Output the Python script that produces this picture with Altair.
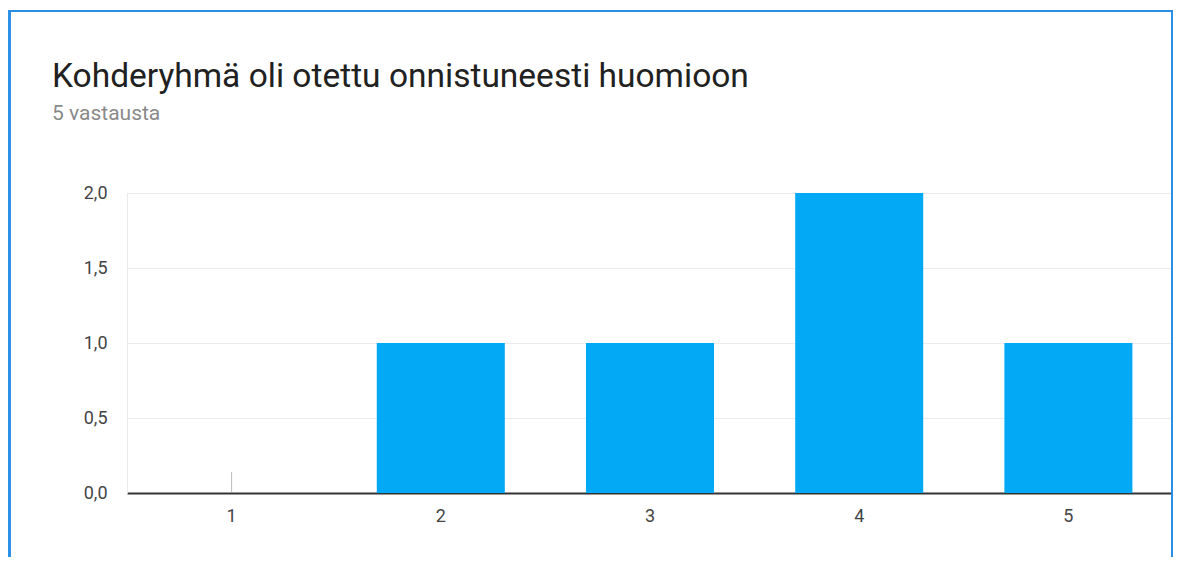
import altair as alt
import pandas as pd

categories = ["1", "2", "3", "4", "5"]
counts = [0, 1, 1, 2, 1]
title_text = "Kohderyhmä oli otettu onnistuneesti huomioon"
subtitle_text = "5 vastausta"

df = pd.DataFrame({"cat": categories, "n": counts})

FONT = "Roboto"

x_enc = alt.X(
    "cat:N",
    sort=categories,
    scale=alt.Scale(paddingInner=0.388, paddingOuter=0.194),
    axis=alt.Axis(
        title=None, labelAngle=0, ticks=False, grid=False,
        domain=True, domainColor="#333333", domainWidth=2,
        labelFont=FONT, labelFontSize=18, labelColor="#444444",
        labelPadding=14,
    ),
)
y_enc = alt.Y(
    "n:Q",
    scale=alt.Scale(domain=[0, 2], nice=False),
    axis=alt.Axis(
        title=None, values=[0, 0.5, 1, 1.5, 2], format=".1f",
        labelExpr="replace(datum.label, '.', ',')",
        ticks=False, domain=True, domainColor="#ebebeb", domainWidth=1,
        grid=True, gridColor="#ebebeb", gridWidth=1,
        labelFont=FONT, labelFontSize=18, labelColor="#444444",
        labelPadding=20,
    ),
)

bars = alt.Chart(df).mark_bar(color="#03a9f4").encode(x=x_enc, y=y_enc)

zero_ticks = (
    alt.Chart(df)
    .transform_filter("datum.n == 0")
    .mark_tick(orient="vertical", size=21, thickness=1, color="#9e9e9e", yOffset=-10.5)
    .encode(x=alt.X("cat:N", sort=categories), y=alt.Y("n:Q"))
)

frame = alt.Chart(df).mark_rect(
    fill=None, stroke="#2a8ee6", strokeWidth=2, clip=False
).encode(
    x=alt.value(-117.5), x2=alt.value(1045), y=alt.value(-182), y2=alt.value(420)
)

title_df = pd.DataFrame({"t": [title_text]})
sub_df = pd.DataFrame({"t": [subtitle_text]})

title_mark = alt.Chart(title_df).mark_text(
    align="left", baseline="alphabetic", font=FONT, fontSize=33.5, color="#212121"
).encode(text="t:N", x=alt.value(-75), y=alt.value(-106))

sub_mark = alt.Chart(sub_df).mark_text(
    align="left", baseline="alphabetic", font=FONT, fontSize=21, color="#8a8a8a"
).encode(text="t:N", x=alt.value(-75), y=alt.value(-73))

chart = (
    alt.layer(bars, zero_ticks, frame, title_mark, sub_mark)
    .properties(
        width=1046,
        height=300,
        autosize=alt.AutoSizeParams(type="none"),
        padding={"left": 119, "top": 185, "right": 0, "bottom": 64},
    )
    .configure_view(stroke=None)
    .configure(background="white")
)

chart.save("out.html", embed_options={"renderer": "svg", "actions": False})
